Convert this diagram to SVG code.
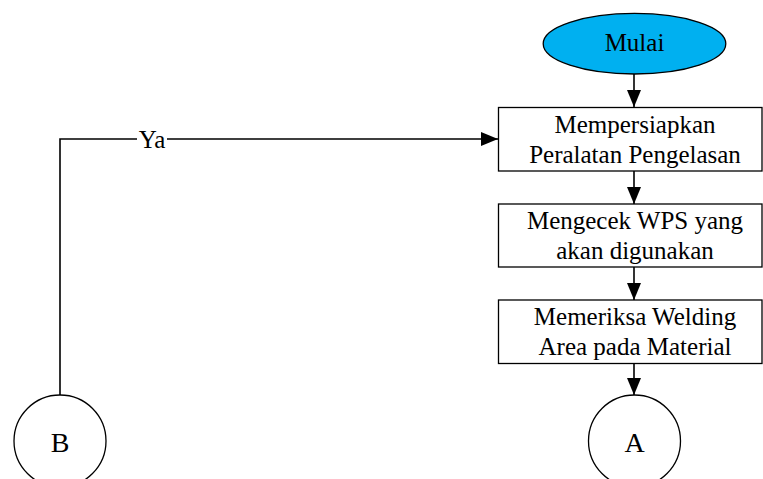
<svg xmlns="http://www.w3.org/2000/svg" width="763" height="479" viewBox="0 0 763 479">
  <style>
    .shape { fill: #ffffff; stroke: #000000; stroke-width: 1.3; }
    .start { fill: #00B0F0; stroke: #000000; stroke-width: 1.3; }
    .label { font-family: "Liberation Serif", "Times New Roman", serif; font-size: 25px; fill: #000000; text-anchor: middle; }
    .big { font-size: 28px; }
    .conn { fill: none; stroke: #000000; stroke-width: 1.6; }
  </style>
  <defs>
    <marker id="arrowh" viewBox="0 0 17 14" refX="17" refY="7" markerWidth="17" markerHeight="14" markerUnits="userSpaceOnUse" orient="auto">
      <path d="M0,0 L17,7 L0,14 Z" fill="#000000"/>
    </marker>
  </defs>
  <rect width="763" height="479" fill="#ffffff"/>

  <g id="connectors">
    <path class="conn" d="M634,74 L634,107" marker-end="url(#arrowh)"/>
    <path class="conn" d="M634,171 L634,204" marker-end="url(#arrowh)"/>
    <path class="conn" d="M634,267 L634,300" marker-end="url(#arrowh)"/>
    <path class="conn" d="M634,363 L634,395" marker-end="url(#arrowh)"/>
    <path class="conn" d="M60,395 L60,139 L498,139" marker-end="url(#arrowh)"/>
    <rect x="137" y="128" width="30" height="22" fill="#ffffff"/>
    <text class="label" x="152" y="148">Ya</text>
  </g>

  <g id="mulai">
    <ellipse class="start" cx="634.5" cy="43.7" rx="91.3" ry="30.3"/>
    <text class="label" x="634.5" y="51">Mulai</text>
  </g>

  <g id="mempersiapkan">
    <rect class="shape" x="498.5" y="107.5" width="263.5" height="63.5"/>
    <text class="label" x="635" y="132.5">Mempersiapkan</text>
    <text class="label" x="635" y="162.5">Peralatan Pengelasan</text>
  </g>

  <g id="mengecek">
    <rect class="shape" x="498.5" y="204" width="263.5" height="63"/>
    <text class="label" x="635" y="228.5">Mengecek WPS yang</text>
    <text class="label" x="635" y="258.5">akan digunakan</text>
  </g>

  <g id="memeriksa">
    <rect class="shape" x="498.5" y="300" width="263.5" height="63.5"/>
    <text class="label" x="635" y="325">Memeriksa Welding</text>
    <text class="label" x="635" y="355">Area pada Material</text>
  </g>

  <g id="connector-a">
    <circle class="shape" cx="634.5" cy="441" r="46"/>
    <text class="label big" x="634.5" y="452">A</text>
  </g>

  <g id="connector-b">
    <circle class="shape" cx="60" cy="441" r="46"/>
    <text class="label big" x="60" y="452">B</text>
  </g>
</svg>
